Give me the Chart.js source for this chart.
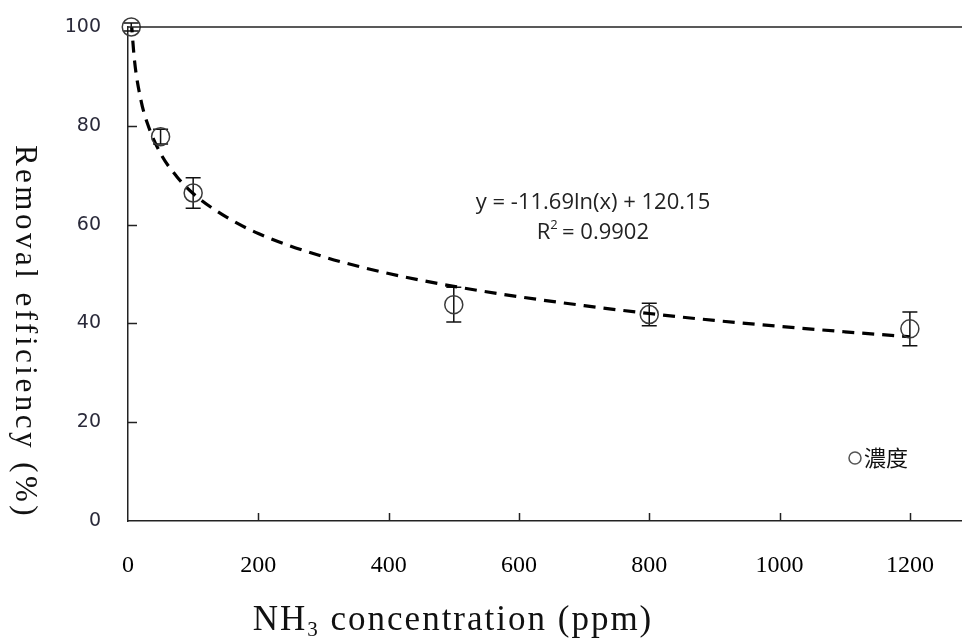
<!DOCTYPE html>
<html>
<head>
<meta charset="utf-8">
<script src="https://cdn.jsdelivr.net/npm/chart.js@4"></script>
<style>
  html, body { margin: 0; padding: 0; background: #fff; }
  #wrap { width: 962px; height: 643px; }
</style>
</head>
<body>
<div id="wrap"><canvas id="chart" width="962" height="643"></canvas></div>
<script>
// measured points (NH3 ppm -> removal %)
const concentration = [5, 50, 100, 500, 800, 1200];
const efficiency = [100, 77.8, 66.4, 43.8, 41.8, 38.9];
const errors = [0.8, 1.5, 3.1, 3.5, 2.3, 3.4];

// log trendline
const trendX = [5, 10, 20, 30, 50, 75, 100, 150, 200, 300, 400, 500, 600, 700, 800, 900, 1000, 1100, 1200];
const trendY = [101.3, 93.2, 85.1, 80.4, 74.4, 69.7, 66.3, 61.6, 58.2, 53.5, 50.1, 47.5, 45.4, 43.6, 42.0, 40.6, 39.4, 38.3, 37.3];

const xTicks = [0, 200, 400, 600, 800, 1000, 1200];
const yTicks = [0, 20, 40, 60, 80, 100];

const seriesLabel = '濃度';
const equation = 'y = -11.69ln(x) + 120.15';
const rSquared = '= 0.9902';

const extras = {
  id: 'extras',
  beforeDatasetsDraw(chart) {
    const { ctx, scales: { x, y } } = chart;
    ctx.save();
    ctx.strokeStyle = '#111';
    ctx.lineWidth = 1.5;
    // error bars
    concentration.forEach((c, i) => {
      const px = x.getPixelForValue(c);
      const top = y.getPixelForValue(efficiency[i] + errors[i]);
      const bot = y.getPixelForValue(efficiency[i] - errors[i]);
      ctx.beginPath();
      ctx.moveTo(px, top); ctx.lineTo(px, bot);
      ctx.moveTo(px - 7.5, top); ctx.lineTo(px + 7.5, top);
      ctx.moveTo(px - 7.5, bot); ctx.lineTo(px + 7.5, bot);
      ctx.stroke();
    });
    ctx.restore();
  },
  afterDraw(chart) {
    const { ctx, chartArea: a, scales: { x, y } } = chart;
    ctx.save();
    ctx.strokeStyle = '#222';
    ctx.lineWidth = 1.5;
    // top frame line
    ctx.beginPath();
    ctx.moveTo(a.left, a.top); ctx.lineTo(chart.width, a.top);
    ctx.stroke();
    // inward tick marks
    ctx.beginPath();
    xTicks.slice(1).forEach(v => {
      const px = Math.round(x.getPixelForValue(v)) + 0.5;
      ctx.moveTo(px, a.bottom); ctx.lineTo(px, a.bottom - 8);
    });
    yTicks.slice(1, -1).forEach(v => {
      const py = Math.round(y.getPixelForValue(v)) + 0.5;
      ctx.moveTo(a.left, py); ctx.lineTo(a.left + 9, py);
    });
    ctx.stroke();

    // y title, reads top to bottom
    ctx.fillStyle = '#111';
    ctx.save();
    ctx.translate(24, 332);
    ctx.rotate(Math.PI / 2);
    ctx.font = '31px "Liberation Serif"';
    ctx.letterSpacing = '3.5px';
    ctx.textAlign = 'center';
    ctx.textBaseline = 'middle';
    ctx.fillText('Removal efficiency (%)', 0, 0);
    ctx.restore();

    // x title with subscript
    ctx.save();
    ctx.letterSpacing = '2px';
    ctx.textBaseline = 'alphabetic';
    ctx.textAlign = 'left';
    const p1 = 'NH', p3 = ' concentration (ppm)';
    ctx.font = '35px "Liberation Serif"';
    const w1 = ctx.measureText(p1).width;
    const w3 = ctx.measureText(p3).width;
    ctx.font = '21px "Liberation Serif"';
    const w2 = ctx.measureText('3').width;
    const sx = 453 - (w1 + w2 + w3) / 2;
    ctx.font = '35px "Liberation Serif"';
    ctx.fillText(p1, sx, 630);
    ctx.font = '21px "Liberation Serif"';
    ctx.fillText('3', sx + w1, 636);
    ctx.font = '35px "Liberation Serif"';
    ctx.fillText(p3, sx + w1 + w2, 630);
    ctx.restore();

    // trendline equation
    ctx.fillStyle = '#222';
    ctx.font = '22px "Open Sans"';
    ctx.textAlign = 'center';
    ctx.textBaseline = 'middle';
    ctx.fillText(equation, 593, 203);
    const rw = ctx.measureText('R' + rSquared).width;
    const rx = 593 - rw / 2 - 6;
    ctx.textAlign = 'left';
    ctx.fillText('R', rx, 233);
    const rW = ctx.measureText('R').width;
    ctx.font = '13px "Open Sans"';
    ctx.fillText('2', rx + rW, 225);
    ctx.font = '22px "Open Sans"';
    ctx.fillText(' ' + rSquared, rx + rW + 6, 233);

    // legend
    ctx.strokeStyle = '#555';
    ctx.lineWidth = 1.5;
    ctx.beginPath();
    ctx.arc(855, 458, 6, 0, Math.PI * 2);
    ctx.stroke();
    ctx.fillStyle = '#111';
    ctx.font = '22px "Noto Sans CJK SC"';
    ctx.fillText(seriesLabel, 864, 458);
    ctx.restore();
  }
};

new Chart(document.getElementById('chart'), {
  type: 'scatter',
  data: {
    datasets: [
      {
        label: 'trend',
        data: trendX.map((v, i) => ({ x: v, y: trendY[i] })),
        showLine: true,
        borderColor: '#000',
        borderWidth: 3.2,
        borderDash: [12, 8],
        pointRadius: 0,
        cubicInterpolationMode: 'monotone',
        order: 2
      },
      {
        label: seriesLabel,
        data: concentration.map((v, i) => ({ x: v, y: efficiency[i] })),
        pointStyle: 'circle',
        pointRadius: 9,
        pointBorderWidth: 1.5,
        pointBorderColor: '#3a3a3a',
        pointBackgroundColor: 'rgba(0,0,0,0)',
        clip: false,
        order: 1
      }
    ]
  },
  options: {
    responsive: false,
    animation: false,
    layout: { autoPadding: false, padding: { top: 27, left: 0, right: 0, bottom: 0 } },
    plugins: { legend: { display: false }, tooltip: { enabled: false } },
    scales: {
      x: {
        type: 'linear',
        min: 0,
        max: 1280,
        afterBuildTicks: s => { s.ticks = xTicks.map(v => ({ value: v })); },
        afterFit: s => { s.height = 122; s.paddingLeft = 0; s.paddingRight = 0; },
        ticks: { color: '#000', font: { family: 'Liberation Serif', size: 24 }, padding: 22, maxRotation: 0,
          callback: v => String(v) },
        grid: { display: false },
        border: { display: true, color: '#222', width: 1.5 }
      },
      y: {
        min: 0,
        max: 100,
        afterBuildTicks: s => { s.ticks = yTicks.map(v => ({ value: v })); },
        afterFit: s => { s.width = 128; s.paddingTop = 0; s.paddingBottom = 0; },
        ticks: { color: '#2a2a3a', font: { family: 'DejaVu Sans', size: 19 }, padding: 19,
          callback: v => String(v) },
        grid: { display: false },
        border: { display: true, color: '#222', width: 1.5 }
      }
    }
  },
  plugins: [extras]
});
</script>
</body>
</html>
